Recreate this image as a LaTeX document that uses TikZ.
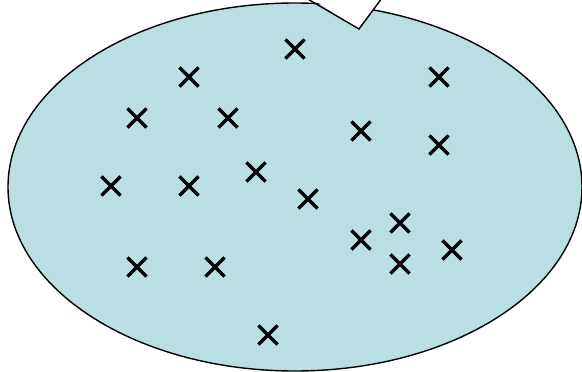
\documentclass[tikz,border=0pt]{standalone}
\usetikzlibrary{shapes.misc}
\definecolor{blobfill}{RGB}{185,223,227}
\begin{document}
\begin{tikzpicture}[
x=1pt, y=-1pt,
mark x/.style={cross out, draw=black, line width=3.2pt, minimum size=16pt, inner sep=0pt}
]
\useasboundingbox (0,0) rectangle (582,372);
\clip (0,0) rectangle (582,372);

% --- Vùng dữ liệu ---
\draw[fill=blobfill, line width=1.4pt] (295,187) ellipse [x radius=287, y radius=184];

% mũi nhọn phía trên
\fill[white] (306,-5) -- (359,29) -- (384,-5) -- cycle;
\draw[line width=1.4pt] (306,-2) -- (359,29) -- (382,-2);

% --- Các điểm ---
\foreach \px/\py [count=\i] in {295/49, 189/77, 439/77, 137/118, 228/118, 361/131,
  439/145, 111/186, 189/186, 256/172, 308/199, 400/223, 361/240, 452/250,
  400/264, 137/267, 215/267, 268/335}
  \node[mark x] (p\i) at (\px,\py) {};

\end{tikzpicture}
\end{document}
